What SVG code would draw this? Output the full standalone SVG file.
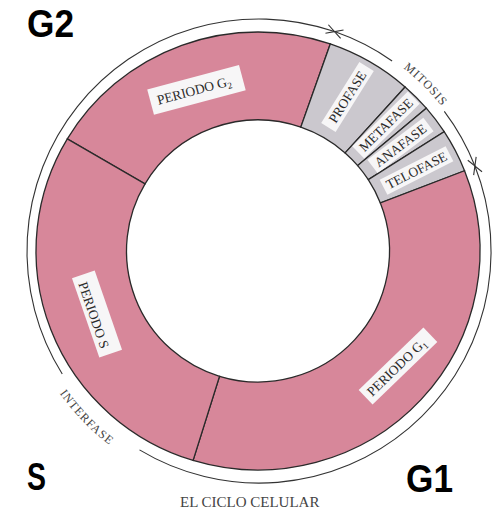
<svg xmlns="http://www.w3.org/2000/svg" width="500" height="511" viewBox="0 0 500 511">
<style>
.pink{fill:#d7879a;stroke:#2a2a2a;stroke-width:1.3}
.grey{fill:#cbc8ce;stroke:#2a2a2a;stroke-width:1.3}
.box{fill:#f7f6f7}
.lab{font-family:"Liberation Serif","DejaVu Serif",serif;font-size:13.5px;fill:#2b2b2b}
.sub{font-size:9px}
.arc{fill:none;stroke:#333;stroke-width:1.1}
.ring{font-family:"Liberation Serif","DejaVu Serif",serif;font-size:12px;fill:#444;letter-spacing:1px}
.big{font-family:"Liberation Sans","Arial",sans-serif;font-weight:bold;font-size:38px;fill:#000}
</style>
<defs>
<marker id="ah" markerUnits="userSpaceOnUse" markerWidth="12" markerHeight="12" refX="9" refY="6" orient="auto-start-reverse" viewBox="0 0 12 12">
<path d="M1,1.5 L9,6 L1,10.5" fill="none" stroke="#333" stroke-width="1.1"/>
</marker>
<path id="pm" d="M368.39,45.27 A233 233 0 0 1 464.73,141.61"/>
<path id="pi" d="M28.78,334.79 A245 245 0 0 0 167.22,478.16"/>
</defs>

<g id="periodo-g2">
<path class="pink" d="M67.31,138.86 A222 219 0 0 1 330.28,43.93 L300.81,127.14 A131.5 131 0 0 0 145.05,183.92 Z"/>
<g transform="translate(196,90) rotate(-15)">
<rect class="box" x="-47" y="-13" width="95" height="26"/>
<text class="lab" x="-2" y="4.5" text-anchor="middle">PERIODO G<tspan class="sub" dy="3">2</tspan></text>
</g>
</g>

<g id="profase">
<path class="grey" d="M330.28,43.93 A222 219 0 0 1 405.10,86.98 L345.13,152.89 A131.5 131 0 0 0 300.81,127.14 Z"/>
<g transform="translate(347.5,97) rotate(-58)">
<rect class="box" x="-36" y="-8.5" width="72" height="17"/>
<text class="lab" x="0" y="4.5" text-anchor="middle">PROFASE</text>
</g>
</g>

<g id="metafase">
<path class="grey" d="M405.10,86.98 A222 219 0 0 1 426.30,108.19 L357.69,165.57 A131.5 131 0 0 0 345.13,152.89 Z"/>
<g transform="translate(386,125) rotate(-44.6)">
<rect class="box" x="-39" y="-8.5" width="78" height="17"/>
<text class="lab" x="0" y="4.5" text-anchor="middle">METAFASE</text>
</g>
</g>

<g id="anafase">
<path class="grey" d="M426.30,108.19 A222 219 0 0 1 444.18,131.72 L368.28,179.65 A131.5 131 0 0 0 357.69,165.57 Z"/>
<g transform="translate(400.5,145.5) rotate(-37)">
<rect class="box" x="-35" y="-8.5" width="70" height="17"/>
<text class="lab" x="0" y="4.5" text-anchor="middle">ANAFASE</text>
</g>
</g>

<g id="telofase">
<path class="grey" d="M444.18,131.72 A222 219 0 0 1 464.55,170.74 L380.35,202.99 A131.5 131 0 0 0 368.28,179.65 Z"/>
<g transform="translate(416.5,170.5) rotate(-27)">
<rect class="box" x="-37" y="-8.5" width="74" height="17"/>
<text class="lab" x="0" y="4.5" text-anchor="middle">TELOFASE</text>
</g>
</g>

<g id="periodo-g1">
<path class="pink" d="M464.55,170.74 A222 219 0 0 1 193.09,460.43 L219.55,376.28 A131.5 131 0 0 0 380.35,202.99 Z"/>
<g transform="translate(398,366) rotate(-44)">
<rect class="box" x="-45" y="-10" width="90" height="20"/>
<text class="lab" x="-2" y="4.5" text-anchor="middle">PERIODO G<tspan class="sub" dy="3">1</tspan></text>
</g>
</g>

<g id="periodo-s">
<path class="pink" d="M193.09,460.43 A222 219 0 0 1 67.31,138.86 L145.05,183.92 A131.5 131 0 0 0 219.55,376.28 Z"/>
<g transform="translate(97,314) rotate(71)">
<rect class="box" x="-42" y="-12" width="84" height="24"/>
<text class="lab" x="0" y="8" text-anchor="middle">PERIODO S</text>
</g>
</g>

<g id="connectors">
<path class="arc" marker-start="url(#ah)" d="M334.5,31.6 A232 232 0 0 1 392.1,61.0"/>
<path class="arc" marker-end="url(#ah)" d="M444.3,111.4 A232 232 0 0 1 474.9,166.0"/>
<path class="arc" marker-start="url(#ah)" d="M334.5,31.6 A232 232 0 0 0 62.25,373.94"/>
<path class="arc" marker-end="url(#ah)" d="M139.5,449.9 A232 232 0 0 0 474.9,166.0"/>
</g>

<text class="ring"><textPath href="#pm" startOffset="50%" text-anchor="middle">MITOSIS</textPath></text>
<text class="ring"><textPath href="#pi" startOffset="50%" text-anchor="middle">INTERFASE</textPath></text>
<text x="180" y="507" font-family="Liberation Serif, DejaVu Serif, serif" font-size="15" fill="#444">EL CICLO CELULAR</text>

<text class="big" x="27" y="37" textLength="47" lengthAdjust="spacingAndGlyphs">G2</text>
<text class="big" x="27" y="490" textLength="19" lengthAdjust="spacingAndGlyphs">S</text>
<text class="big" x="406" y="492" textLength="47" lengthAdjust="spacingAndGlyphs">G1</text>
</svg>
